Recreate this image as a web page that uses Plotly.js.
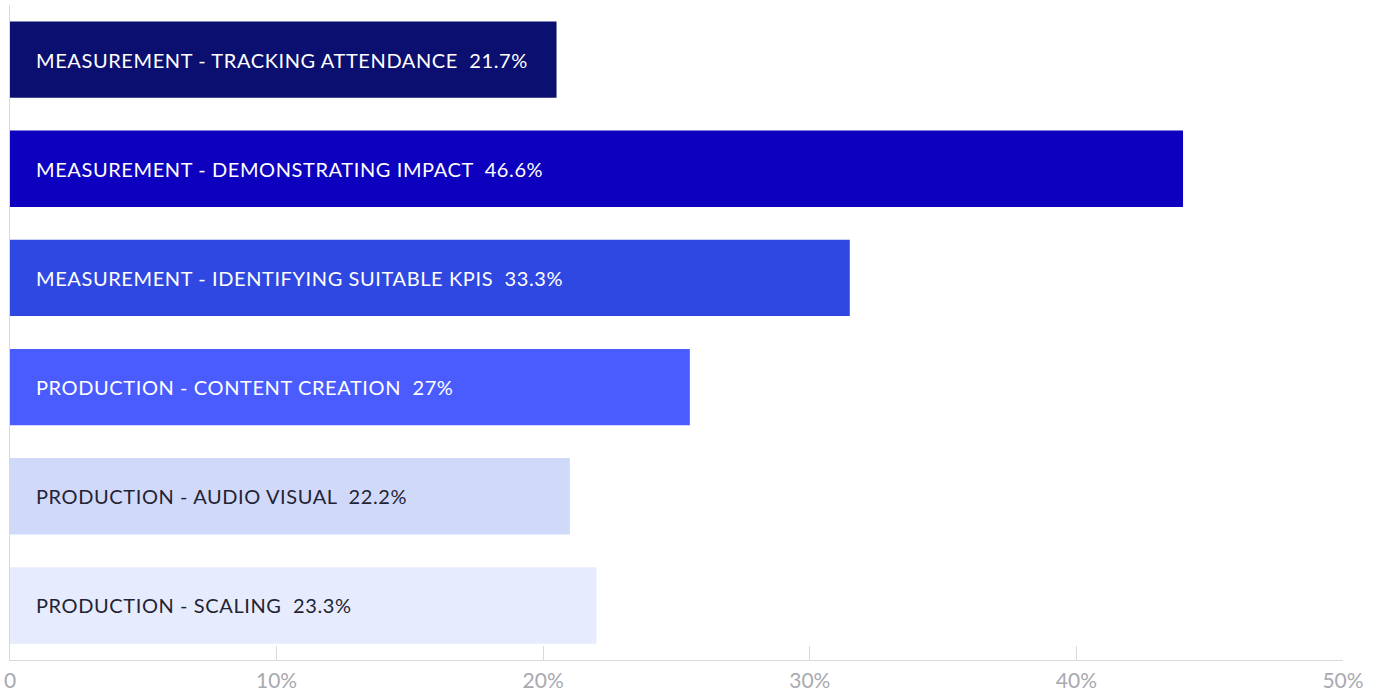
<!DOCTYPE html>
<html>
<head>
<meta charset="utf-8">
<script src="https://cdn.plot.ly/plotly-3.0.1.min.js"></script>
<style>
html,body{margin:0;padding:0;background:#fff;}
#chart{width:1385px;height:696px;}
text.annotation-text{letter-spacing:0.6px;}
</style>
</head>
<body>
<div id="chart"></div>
<script>
const categories = [
  "MEASUREMENT - TRACKING ATTENDANCE",
  "MEASUREMENT - DEMONSTRATING IMPACT",
  "MEASUREMENT - IDENTIFYING SUITABLE KPIS",
  "PRODUCTION - CONTENT CREATION",
  "PRODUCTION - AUDIO VISUAL",
  "PRODUCTION - SCALING"
];
// bar lengths as read against the axis
const barValues = [20.5, 44.0, 31.5, 25.5, 21.0, 22.0];
// percentages printed in the labels
const labelPercents = ["21.7%", "46.6%", "33.3%", "27%", "22.2%", "23.3%"];
const barColors = ["#0b0f6f", "#0d00be", "#2f48e1", "#4a5cfe", "#d1d9fb", "#e6ebfd"];
const textColors = ["#ffffff", "#ffffff", "#ffffff", "#ffffff", "#1f2433", "#1f2433"];
const tickVals = [0, 10, 20, 30, 40, 50];
const tickText = ["0", "10%", "20%", "30%", "40%", "50%"];

const trace = {
  type: "bar",
  orientation: "h",
  x: barValues,
  y: categories,
  marker: {color: barColors},
  width: 0.7,
  hoverinfo: "none"
};

const annotations = categories.map((c, i) => ({
  x: 0, y: c, xref: "x", yref: "y",
  text: c + "  " + labelPercents[i],
  showarrow: false, xanchor: "left", yanchor: "middle", xshift: 24,
  font: {family: "Lato, 'Open Sans', sans-serif", size: 20, color: textColors[i]}
}));

const layout = {
  width: 1385, height: 696,
  margin: {l: 10, r: 42, t: 5, b: 36},
  paper_bgcolor: "#ffffff", plot_bgcolor: "#ffffff",
  showlegend: false,
  bargap: 0.3,
  xaxis: {
    range: [0, 50], tickvals: tickVals, ticktext: tickText,
    showgrid: false, zeroline: false,
    showline: true, linecolor: "#d9d9d9", linewidth: 1,
    ticks: "inside", ticklen: 14, tickcolor: "#d9d9d9", tickwidth: 1,
    tickfont: {family: "Lato, 'Open Sans', sans-serif", size: 21, color: "#a9a9b0"},
    ticklabelstandoff: 2, fixedrange: true
  },
  yaxis: {
    autorange: "reversed", showticklabels: false, showgrid: false, zeroline: false,
    showline: true, linecolor: "#d9d9d9", linewidth: 1, ticks: "", fixedrange: true
  },
  annotations: annotations
};

Plotly.newPlot("chart", [trace], layout, {displayModeBar: false, staticPlot: true});
</script>
</body>
</html>
